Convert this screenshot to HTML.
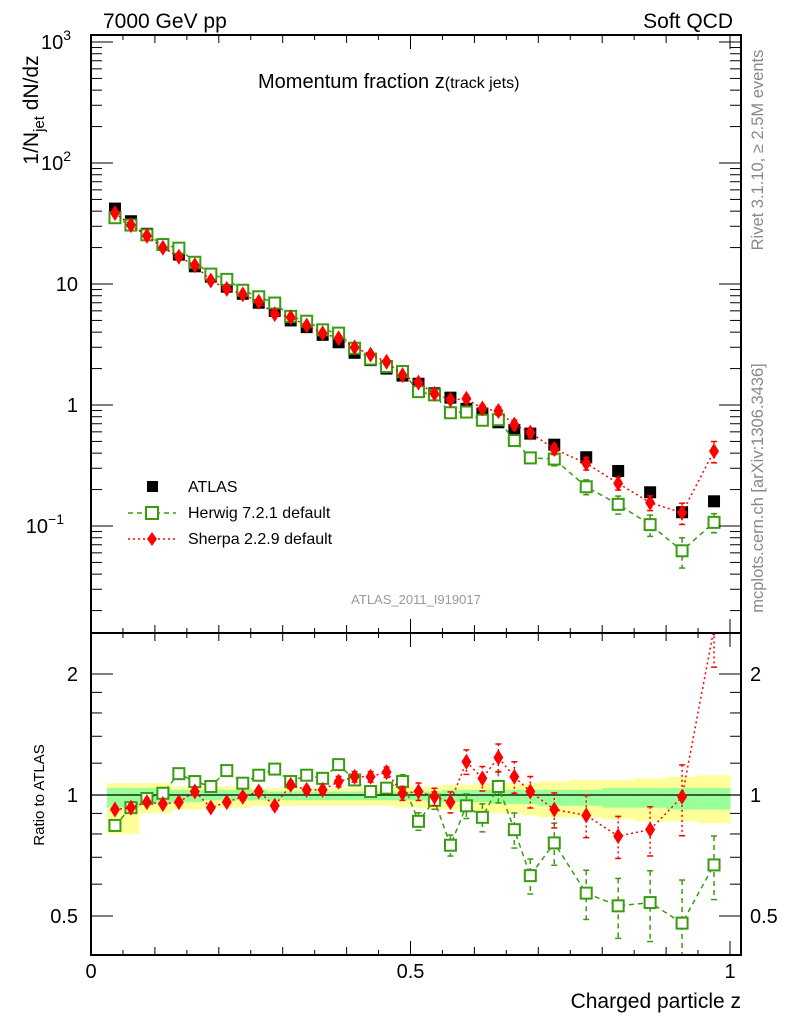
<!DOCTYPE html>
<html><head><meta charset="utf-8"><style>
body{margin:0;background:#fff;}
svg{display:block;font-family:"Liberation Sans",sans-serif;}
</style></head><body>
<svg id="chart" width="786" height="1024" viewBox="0 0 786 1024" xmlns="http://www.w3.org/2000/svg">
<g id="bands"></g>
<g id="marks"></g>
<g id="axes"></g>
<text x="103" y="28" font-size="21">7000 GeV pp</text>
<text x="733" y="28" font-size="21" text-anchor="end">Soft QCD</text>
<text x="258" y="88" font-size="20">Momentum fraction z<tspan font-size="16">(track jets)</tspan></text>
<text x="416" y="604" font-size="13" fill="#999" text-anchor="middle">ATLAS_2011_I919017</text>
<text transform="translate(763,150) rotate(-90)" font-size="16.5" fill="#888" text-anchor="middle">Rivet 3.1.10, ≥ 2.5M events</text>
<text transform="translate(763,488) rotate(-90)" font-size="16.5" fill="#888" text-anchor="middle">mcplots.cern.ch [arXiv:1306.3436]</text>
<text transform="translate(38,110) rotate(-90)" font-size="21" text-anchor="middle">1/N<tspan font-size="15" dy="6">jet</tspan><tspan dy="-6"> dN/dz</tspan></text>
<text transform="translate(44,795) rotate(-90)" font-size="15" text-anchor="middle">Ratio to ATLAS</text>
<text x="741" y="1008" font-size="21" text-anchor="end">Charged particle z</text>
<g>
<rect x="147" y="481" width="11" height="11" fill="#000"/>
<text x="188" y="492" font-size="16">ATLAS</text>
<line x1="128" y1="513" x2="176" y2="513" stroke="#3a9a10" stroke-width="1.5" stroke-dasharray="5,4"/>
<rect x="146" y="507" width="12" height="12" fill="#fff" stroke="#3a9a10" stroke-width="2"/>
<text x="188" y="518" font-size="16">Herwig 7.2.1 default</text>
<line x1="128" y1="539" x2="176" y2="539" stroke="#f00" stroke-width="1.5" stroke-dasharray="2,3"/>
<polygon points="152,532 157,539 152,546 147,539" fill="#f00"/>
<text x="188" y="544" font-size="16">Sherpa 2.2.9 default</text>
</g>
</svg>
<script>
const binEdges=[0.025,0.05,0.075,0.1,0.125,0.15,0.175,0.2,0.225,0.25,0.275,0.3,0.325,0.35,0.375,0.4,0.425,0.45,0.475,0.5,0.525,0.55,0.575,0.6,0.625,0.65,0.675,0.7,0.75,0.8,0.85,0.9,0.95,1.0];
const atlas=[42,33,26,21,17.5,14,11.5,9.5,8.3,7,6,5,4.4,3.8,3.3,2.7,2.35,2.0,1.75,1.5,1.25,1.15,0.93,0.85,0.72,0.62,0.58,0.47,0.37,0.285,0.19,0.13,0.16];
const herwigRatio=[0.84,0.93,0.98,1.01,1.13,1.08,1.05,1.15,1.07,1.12,1.16,1.08,1.12,1.10,1.19,1.09,1.02,1.04,1.08,0.86,0.97,0.75,0.94,0.88,1.05,0.82,0.63,0.76,0.57,0.53,0.54,0.48,0.67];
const herwigErr=[0.01,0.01,0.01,0.01,0.01,0.01,0.01,0.01,0.02,0.02,0.02,0.02,0.02,0.02,0.03,0.03,0.03,0.03,0.04,0.05,0.05,0.06,0.07,0.08,0.09,0.1,0.1,0.12,0.14,0.17,0.2,0.28,0.18];
const sherpaRatio=[0.92,0.93,0.96,0.95,0.96,1.02,0.93,0.96,0.99,1.02,0.94,1.06,1.03,1.03,1.08,1.11,1.11,1.14,1.01,1.02,0.99,0.96,1.21,1.10,1.24,1.11,1.02,0.92,0.89,0.79,0.82,0.99,2.6];
const sherpaErr=[0.01,0.01,0.01,0.01,0.01,0.01,0.01,0.01,0.02,0.02,0.02,0.02,0.02,0.02,0.03,0.03,0.03,0.03,0.04,0.05,0.05,0.06,0.07,0.07,0.08,0.09,0.09,0.1,0.12,0.12,0.14,0.2,0.2];
const yellowHi=[1.07,1.07,1.07,1.07,1.05,1.05,1.05,1.05,1.05,1.04,1.04,1.04,1.04,1.04,1.04,1.04,1.04,1.04,1.05,1.05,1.05,1.06,1.06,1.07,1.07,1.07,1.07,1.08,1.09,1.09,1.10,1.11,1.12];
const yellowLo=[0.80,0.80,0.90,0.90,0.92,0.92,0.93,0.93,0.93,0.94,0.94,0.94,0.94,0.94,0.94,0.94,0.94,0.94,0.93,0.93,0.92,0.92,0.91,0.91,0.90,0.90,0.89,0.88,0.88,0.87,0.86,0.86,0.85];
const greenHi=[1.04,1.04,1.04,1.04,1.03,1.03,1.03,1.03,1.03,1.03,1.02,1.02,1.02,1.02,1.02,1.02,1.02,1.02,1.02,1.02,1.02,1.03,1.03,1.03,1.03,1.03,1.03,1.03,1.03,1.04,1.04,1.04,1.04];
const greenLo=[0.93,0.93,0.95,0.95,0.96,0.96,0.97,0.97,0.97,0.97,0.97,0.97,0.97,0.97,0.97,0.97,0.97,0.97,0.97,0.97,0.96,0.96,0.96,0.96,0.95,0.95,0.95,0.94,0.94,0.93,0.93,0.92,0.92];
const xTicks=[0,0.5,1];
const xTickLabels=["0","0.5","1"];
const ratioTicks=[0.5,1,2];
const ratioTickLabels=["0.5","1","2"];

const NS="http://www.w3.org/2000/svg";
const L=91,R=741,T=35,MB=633,RB=955;
const X=z=>91+639*z;
const Y=v=>405-121*Math.log10(v);
const RY=r=>795-402*Math.log10(r);
function mk(tag,attrs,parent){const e=document.createElementNS(NS,tag);for(const k in attrs)e.setAttribute(k,attrs[k]);parent.appendChild(e);return e;}
const bands=document.getElementById('bands'),marks=document.getElementById('marks'),axes=document.getElementById('axes');
const n=atlas.length;
const cx=i=>X((binEdges[i]+binEdges[i+1])/2);
for(let i=0;i<n;i++){
  const x1=X(binEdges[i]),x2=X(binEdges[i+1]);
  const y=mk('rect',{x:x1,y:RY(yellowHi[i]),width:x2-x1+0.5,height:RY(yellowLo[i])-RY(yellowHi[i]),fill:'#ffff99'},bands);
  
  
  const g=mk('rect',{x:x1,y:RY(greenHi[i]),width:x2-x1+0.5,height:RY(greenLo[i])-RY(greenHi[i]),fill:'#99ff99'},bands);
  
  
}
const clip=mk('clipPath',{id:'cm'},marks);mk('rect',{x:L,y:T,width:R-L,height:MB-T},clip);
const clip2=mk('clipPath',{id:'cr'},marks);mk('rect',{x:L,y:MB,width:R-L,height:RB-MB},clip2);
const gm=mk('g',{'clip-path':'url(#cm)'},marks),gr=mk('g',{'clip-path':'url(#cr)'},marks);
mk('line',{x1:L,y1:RY(1),x2:R,y2:RY(1),stroke:'#000','stroke-width':1.2},gr);
function series(vals,errs,col,dash,shape,g,yf,name){
  let p='';vals.forEach((v,i)=>{p+=(i?'L':'M')+cx(i)+','+yf(v);});
  mk('path',{d:p,fill:'none',stroke:col,'stroke-width':1.5,'stroke-dasharray':dash},g);
  vals.forEach((v,i)=>{
    const x=cx(i),hi=yf(v*(1+errs[i])),lo=yf(v*(1-errs[i]));
    mk('line',{x1:x,y1:hi,x2:x,y2:lo,stroke:col,'stroke-width':1.5,'stroke-dasharray':dash},g);
    mk('line',{x1:x-3,y1:hi,x2:x+3,y2:hi,stroke:col,'stroke-width':1.5},g);
    mk('line',{x1:x-3,y1:lo,x2:x+3,y2:lo,stroke:col,'stroke-width':1.5},g);
    const y=yf(v);let m;
    if(shape==='sq')m=mk('rect',{x:x-5.5,y:y-5.5,width:11,height:11,fill:'#fff',stroke:col,'stroke-width':2},g);
    else m=mk('polygon',{points:`${x},${y-8} ${x+5},${y} ${x},${y+8} ${x-5},${y}`,fill:col},g);
    
    
  });
}
for(let i=0;i<n;i++){
  const r=mk('rect',{x:cx(i)-6,y:Y(atlas[i])-6,width:12,height:12,fill:'#000'},gm);
  
  
}
series(atlas.map((a,i)=>a*herwigRatio[i]),herwigErr,'#3a9a10','5,4','sq',gm,Y,'herwig-point');
series(atlas.map((a,i)=>a*sherpaRatio[i]),sherpaErr,'#f00','2,3','di',gm,Y,'sherpa-point');
series(herwigRatio,herwigErr,'#3a9a10','5,4','sq',gr,RY,'herwig-ratio-point');
series(sherpaRatio,sherpaErr,'#f00','2,3','di',gr,RY,'sherpa-ratio-point');
mk('rect',{x:L,y:T,width:R-L,height:MB-T,fill:'none',stroke:'#000','stroke-width':2},axes);
mk('rect',{x:L,y:MB,width:R-L,height:RB-MB,fill:'none',stroke:'#000','stroke-width':2},axes);
for(let k=0;k<=20;k++){const z=k*0.05,x=X(z),len=(k%10===0)?14:(k%2===0?8:5);
  [T,MB].forEach(yb=>{mk('line',{x1:x,y1:yb,x2:x,y2:yb+len,stroke:'#000','stroke-width':1},axes);});
  [MB,RB].forEach(yb=>{mk('line',{x1:x,y1:yb,x2:x,y2:yb-len,stroke:'#000','stroke-width':1},axes);});}
xTicks.forEach((z,i)=>{const t=mk('text',{x:X(z),y:978,'font-size':20,'text-anchor':'middle'},axes);t.textContent=xTickLabels[i];
  
  });
for(let d=-2;d<=2;d++)for(let m=1;m<=9;m++){const v=m*Math.pow(10,d),y=Y(v);if(y<T||y>MB)continue;const len=m===1?22:11;
  mk('line',{x1:L,y1:y,x2:L+len,y2:y,stroke:'#000'},axes);mk('line',{x1:R,y1:y,x2:R-len,y2:y,stroke:'#000'},axes);}
mk('line',{x1:L,y1:Y(1000),x2:L+22,y2:Y(1000),stroke:'#000'},axes);mk('line',{x1:R,y1:Y(1000),x2:R-22,y2:Y(1000),stroke:'#000'},axes);
const mainLabels=[[1000,'10','3'],[100,'10','2'],[10,'10',''],[1,'1',''],[0.1,'10','−1']];
mainLabels.forEach(l=>{const t=mk('text',{x:78,y:Y(l[0])+7,'font-size':20,'text-anchor':'end'},axes);
  
  
  if(l[2]){t.textContent=l[1];const s=mk('tspan',{dy:-9,'font-size':14},t);s.textContent=l[2];}else t.textContent=l[1];
  if(l[2])t.setAttribute('x',78-(l[2].length*7));});
[0.4,0.5,0.6,0.7,0.8,0.9,1,1.2,1.4,1.6,1.8,2].forEach(r=>{const y=RY(r);const big=[0.5,1,2].includes(r);const len=big?22:11;
  mk('line',{x1:L,y1:y,x2:L+len,y2:y,stroke:'#000'},axes);mk('line',{x1:R,y1:y,x2:R-len,y2:y,stroke:'#000'},axes);});
ratioTicks.forEach((r,i)=>{const t=mk('text',{x:78,y:RY(r)+7,'font-size':20,'text-anchor':'end'},axes);t.textContent=ratioTickLabels[i];
  
  
  const t2=mk('text',{x:750,y:RY(r)+7,'font-size':20},axes);t2.textContent=ratioTickLabels[i];
  
  });
</script>
</body></html>
